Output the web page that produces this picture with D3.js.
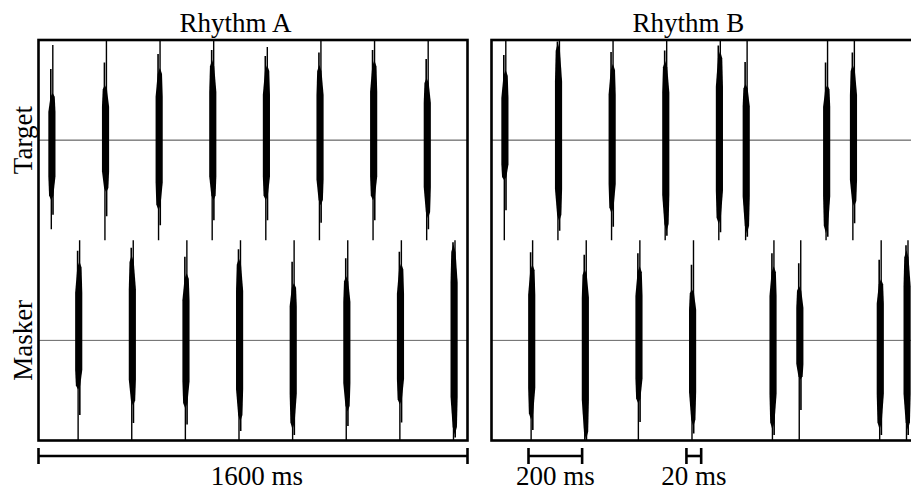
<!DOCTYPE html>
<html>
<head>
<meta charset="utf-8">
<script src="https://cdn.jsdelivr.net/npm/d3@7"></script>
<style>
  html, body { margin: 0; padding: 0; background: #fff; overflow: hidden; }
  svg { display: block; }
  text { font-family: "Liberation Serif", "Times New Roman", serif; fill: #000; }
</style>
</head>
<body>
<script>
// ---------- DATA (ms and relative amplitudes) ----------
const panels = ["Rhythm A", "Rhythm B"];
const rows = ["Target", "Masker"];
const burstDuration = 20; // ms
const totalDuration = 1600; // ms

// burst onsets (ms)
const targetA_onsets = [40, 240, 440, 640, 840, 1040, 1240, 1440];
const maskerA_onsets = [140, 340, 540, 740, 940, 1140, 1340, 1540];
const targetB_onsets = [40, 240, 440, 640, 840, 940, 1240, 1340];
const maskerB_onsets = [140, 340, 540, 740, 1040, 1140, 1440, 1540];

// dense body amplitude (fraction of full scale) above / below baseline
const targetA_bodyUp   = [0.47, 0.55, 0.72, 0.80, 0.75, 0.75, 0.80, 0.62];
const targetA_bodyDown = [0.60, 0.52, 0.70, 0.60, 0.60, 0.65, 0.60, 0.78];
const maskerA_bodyUp   = [0.79, 0.85, 0.67, 0.82, 0.57, 0.64, 0.77, 0.96];
const maskerA_bodyDown = [0.49, 0.65, 0.68, 0.81, 0.89, 0.71, 0.64, 0.94];
const targetB_bodyUp   = [0.70, 0.97, 0.76, 0.79, 0.89, 0.56, 0.55, 0.75];
const targetB_bodyDown = [0.40, 0.81, 0.73, 0.91, 0.84, 0.93, 0.93, 0.66];
const maskerB_bodyUp   = [0.76, 0.71, 0.74, 0.51, 0.74, 0.54, 0.61, 0.90];
const maskerB_bodyDown = [0.79, 0.99, 0.63, 0.86, 0.89, 0.39, 0.89, 0.89];

// peak (spike) amplitude above / below baseline
const targetA_peakUp   = [0.95, 1, 1, 1, 0.93, 1, 1, 1];
const targetA_peakDown = [0.89, 1, 1, 1, 1, 1, 1, 1];
const maskerA_peakUp   = [1, 1, 1, 1, 1, 1, 1, 1];
const maskerA_peakDown = [1, 1, 1, 1, 1, 1, 1, 1];
const targetB_peakUp   = [1, 1, 1, 1, 1, 1, 1, 1];
const targetB_peakDown = [1, 1, 1, 1, 1, 1, 1, 1];
const maskerB_peakUp   = [1, 1, 1, 1, 1, 1, 1, 1];
const maskerB_peakDown = [1, 1, 1, 1, 1, 1, 1, 1];

// scale bars: [start ms, end ms, label]
const scaleBarA = [[0, 1600, "1600 ms"]];
const scaleBarB = [[138, 338, "200 ms"], [727, 782, "20 ms"]];

// ---------- build ----------
const W = 911, H = 490;
const svg = d3.select("body").append("svg").attr("width", W).attr("height", H);

const panelLeft = [38.5, 491.5];
const panelWidth = 429;
const plotTop = 40, plotBottom = 440.5, plotMid = 240.25;

const series = [
  [ {onsets: targetA_onsets, up: targetA_bodyUp, dn: targetA_bodyDown, pu: targetA_peakUp, pd: targetA_peakDown},
    {onsets: maskerA_onsets, up: maskerA_bodyUp, dn: maskerA_bodyDown, pu: maskerA_peakUp, pd: maskerA_peakDown} ],
  [ {onsets: targetB_onsets, up: targetB_bodyUp, dn: targetB_bodyDown, pu: targetB_peakUp, pd: targetB_peakDown},
    {onsets: maskerB_onsets, up: maskerB_bodyUp, dn: maskerB_bodyDown, pu: maskerB_peakUp, pd: maskerB_peakDown} ]
];
const scaleBars = [scaleBarA, scaleBarB];

const yScales = [
  d3.scaleLinear().domain([-1, 1]).range([plotMid, plotTop]),
  d3.scaleLinear().domain([-1, 1]).range([plotBottom, plotMid])
];

const lens = d3.line().curve(d3.curveLinearClosed);

panels.forEach((title, p) => {
  const x = d3.scaleLinear().domain([0, totalDuration]).range([panelLeft[p], panelLeft[p] + panelWidth]);
  const g = svg.append("g");

  const clipId = "clip" + p;
  svg.append("clipPath").attr("id", clipId).append("rect")
    .attr("x", x(0)).attr("y", plotTop).attr("width", panelWidth).attr("height", plotBottom - plotTop);

  const plot = g.append("g").attr("clip-path", `url(#${clipId})`);

  rows.forEach((rowName, r) => {
    const y = yScales[r];
    const s = series[p][r];
    // baseline
    plot.append("line")
      .attr("x1", x(0)).attr("x2", x(totalDuration))
      .attr("y1", y(0)).attr("y2", y(0))
      .attr("stroke", r === 0 ? "#444" : "#666").attr("stroke-width", 1);

    const bursts = s.onsets.map((t, i) => ({t, up: s.up[i], dn: s.dn[i], pu: s.pu[i], pd: s.pd[i]}));
    const bg = plot.selectAll(null).data(bursts).enter().append("g");

    bg.each(function(d, i) {
      const gg = d3.select(this);
      const x0 = x(d.t), x1 = x(d.t + burstDuration);
      const xc = (x0 + x1) / 2;
      const w = (x1 - x0) + 1.8;
      const yb = y(0), yt = y(d.up), yd = y(-d.dn);
      const hu = yb - yt, hd = yd - yb;
      const lean = (i % 2 === 0) ? 0.7 : -0.7;
      const pts = [
        [xc + lean, yt],
        [xc + lean + w * 0.3, yt + hu * 0.08],
        [xc + w * 0.5, yt + hu * 0.4],
        [xc + w * 0.5, yb + hd * 0.6],
        [xc - lean + w * 0.3, yd - hd * 0.08],
        [xc - lean, yd],
        [xc - lean - w * 0.3, yd - hd * 0.08],
        [xc - w * 0.5, yb + hd * 0.6],
        [xc - w * 0.5, yt + hu * 0.4],
        [xc + lean - w * 0.3, yt + hu * 0.08]
      ];
      gg.append("path").attr("d", lens(pts)).attr("fill", "#000");

      // thinner intermediate extensions
      gg.append("line")
        .attr("x1", xc - 1.1).attr("x2", xc - 1.1)
        .attr("y1", yb).attr("y2", y((d.up + d.pu) / 2))
        .attr("stroke", "#000").attr("stroke-width", 1.6);
      gg.append("line")
        .attr("x1", xc + 1.1).attr("x2", xc + 1.1)
        .attr("y1", yb).attr("y2", y(-(d.dn + d.pd) / 2))
        .attr("stroke", "#000").attr("stroke-width", 1.6);
      // peaks
      gg.append("line")
        .attr("x1", xc + 0.9).attr("x2", xc + 0.9)
        .attr("y1", yb).attr("y2", y(d.pu))
        .attr("stroke", "#000").attr("stroke-width", 1.4);
      gg.append("line")
        .attr("x1", xc - 0.6).attr("x2", xc - 0.6)
        .attr("y1", yb).attr("y2", y(-d.pd))
        .attr("stroke", "#000").attr("stroke-width", 1.4);
    });

    // row label (left panel only)
    if (p === 0) {
      svg.append("text")
        .attr("transform", `translate(32,${y(0)}) rotate(-90)`)
        .attr("text-anchor", "middle")
        .attr("font-size", 27)
        .text(rowName);
    }
  });

  // frame
  g.append("rect")
    .attr("x", x(0)).attr("y", plotTop)
    .attr("width", panelWidth).attr("height", plotBottom - plotTop)
    .attr("fill", "none").attr("stroke", "#000").attr("stroke-width", 2.6);

  // title
  svg.append("text")
    .attr("x", x(0) + 197).attr("y", 32)
    .attr("text-anchor", "middle")
    .attr("font-size", 27)
    .text(title);

  // scale bars
  scaleBars[p].forEach(([a, b, label]) => {
    const sb = svg.append("g").attr("stroke", "#000").attr("stroke-width", 2.6);
    sb.append("line").attr("x1", x(a)).attr("x2", x(b)).attr("y1", 456).attr("y2", 456);
    sb.append("line").attr("x1", x(a)).attr("x2", x(a)).attr("y1", 448).attr("y2", 464);
    sb.append("line").attr("x1", x(b)).attr("x2", x(b)).attr("y1", 448).attr("y2", 464);
    svg.append("text")
      .attr("x", (x(a) + x(b)) / 2 + (p === 0 ? 4 : 0))
      .attr("y", 485)
      .attr("text-anchor", "middle")
      .attr("font-size", 27)
      .text(label);
  });
});
</script>
</body>
</html>
